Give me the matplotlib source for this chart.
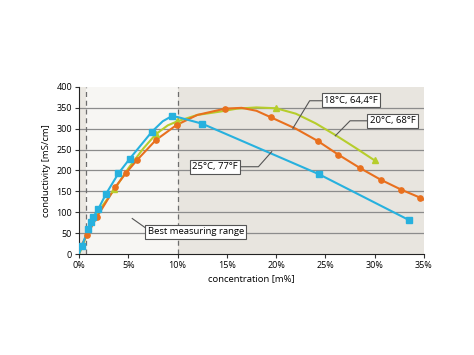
import matplotlib.pyplot as plt

plt.rcParams['font.family'] = ['Open Sans', 'DejaVu Sans']

# 25°C, 77°F  (blue, squares)
blue_x = [0, 0.3, 0.95, 1.2, 1.45, 1.96, 2.74, 4.0, 5.14, 7.4, 8.5, 9.4, 10.0, 12.5, 24.35, 33.5]
blue_y = [0, 20, 60, 76, 89, 108, 144, 193, 228, 293, 318, 330, 328, 312, 191, 81]
blue_mx = [0.3, 0.95, 1.2, 1.45, 1.96, 2.74, 4.0, 5.14, 7.4, 9.4, 12.5, 24.35, 33.5]
blue_my = [20, 60, 76, 89, 108, 144, 193, 228, 293, 330, 312, 191, 81]

# orange curve (circles)
orange_x = [0, 0.2, 0.8, 1.8, 3.7, 4.8, 5.85, 7.8, 9.9, 12.0, 14.8, 16.5, 18.0, 19.5,
            22.0, 24.2, 26.3, 28.5, 30.6, 32.7, 34.6, 35.0]
orange_y = [0, 19, 45, 88, 161, 195, 224, 273, 309, 333, 348, 350, 343, 327,
            300, 271, 238, 206, 178, 154, 135, 130]
orange_mx = [0.2, 0.8, 1.8, 3.7, 4.8, 5.85, 7.8, 9.9, 14.8, 19.5, 24.2, 26.3, 28.5, 30.6, 32.7, 34.6]
orange_my = [19, 45, 88, 161, 195, 224, 273, 309, 348, 327, 271, 238, 206, 178, 154, 135]

# green curve (triangles)
green_x = [0, 0.3, 1.0, 2.0, 3.6, 5.0, 6.5, 7.8, 9.0, 10.0, 12.0, 14.3, 16.0, 18.0, 20.0,
           22.0, 24.0, 26.0, 28.0, 30.0]
green_y = [0, 15, 62, 103, 155, 205, 252, 287, 308, 318, 333, 341, 348, 351, 349,
           336, 313, 285, 255, 224]
green_mx = [3.6, 7.8, 9.9, 20.0, 30.0]
green_my = [155, 287, 318, 349, 224]

x_ticks = [0, 5, 10, 15, 20, 25, 30, 35]
y_ticks = [0, 50, 100, 150, 200, 250, 300, 350, 400]

c_blue = '#27b1de'
c_orange = '#e8701e'
c_green = '#b6cd2c'

fig = plt.figure(figsize=(4.74, 3.55), dpi=100)
ax = fig.add_axes([0.1667, 0.2845, 0.7278, 0.4705])

# background zones
ax.axvspan(0, 0.7, color='#ebe8e2', lw=0, zorder=0)
ax.axvspan(0.7, 10, color='#f7f6f3', lw=0, zorder=0)
ax.axvspan(10, 35, color='#e8e5df', lw=0, zorder=0)
for yv in y_ticks[1:-1]:
    ax.axhline(yv, color='#8c8c8c', lw=0.9, zorder=1)
ax.axvline(0.7, color='#6e6e6e', lw=0.9, ls=(0, (4, 3)), zorder=1)
ax.axvline(10, color='#6e6e6e', lw=0.9, ls=(0, (4, 3)), zorder=1)

ax.plot(green_x, green_y, color=c_green, lw=1.5, zorder=3)
ax.plot(green_mx, green_my, ls='none', marker='^', ms=3.8, color=c_green, zorder=4)
ax.plot(orange_x, orange_y, color=c_orange, lw=1.5, zorder=3)
ax.plot(orange_mx, orange_my, ls='none', marker='o', ms=3.8, color=c_orange, zorder=4)
ax.plot(blue_x, blue_y, color=c_blue, lw=1.5, zorder=3)
ax.plot(blue_mx, blue_my, ls='none', marker='s', ms=4, color=c_blue, zorder=4)

# labels with leader lines
fs = 6.8
box = dict(boxstyle='square,pad=0.25', fc='white', ec='#555555', lw=0.8)
lead = dict(color='#555555', lw=0.8, zorder=5)
ax.plot([24.7, 23.4, 21.7], [367, 367, 301], **lead)
ax.text(27.6, 368, '18°C, 64,4°F', fontsize=fs, ha='center', va='center', bbox=box, zorder=6)
ax.plot([29.2, 27.5, 26.0], [319, 319, 283], **lead)
ax.text(31.8, 319, '20°C, 68°F', fontsize=fs, ha='center', va='center', bbox=box, zorder=6)
ax.plot([16.4, 18.2, 19.55], [209, 209, 245], **lead)
ax.text(13.8, 209, '25°C, 77°F', fontsize=fs, ha='center', va='center', bbox=box, zorder=6)
ax.plot([5.4, 6.9], [85, 60], **lead)
ax.text(11.85, 53, 'Best measuring range', fontsize=fs, ha='center', va='center', bbox=box, zorder=6)

ax.set_xlim(0, 35)
ax.set_ylim(0, 400)
ax.set_xticks(x_ticks)
ax.set_xticklabels([f'{v}%' for v in x_ticks])
ax.set_yticks(y_ticks)
ax.tick_params(labelsize=6.5, length=3, width=0.8, color='#333333', pad=2)
for s in ['top', 'right']:
    ax.spines[s].set_visible(False)
ax.spines['left'].set_color('#222222')
ax.spines['bottom'].set_color('#222222')
ax.set_xlabel('concentration [m%]', fontsize=6.8, labelpad=3)
ax.set_ylabel('conductivity [mS/cm]', fontsize=6.8, labelpad=4)

fig.savefig('out.png', dpi=100)
